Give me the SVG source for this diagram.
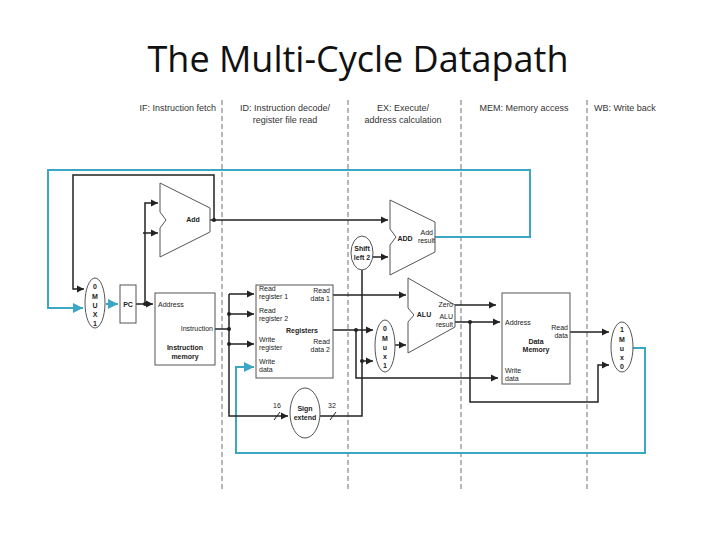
<svg xmlns="http://www.w3.org/2000/svg" width="720" height="540" viewBox="0 0 720 540">
<defs>
<marker id="ar" viewBox="0 0 6 6" refX="6" refY="3" markerWidth="5" markerHeight="5" orient="auto"><path d="M0,0L6,3L0,6z" fill="#222"/></marker>
<marker id="arc" viewBox="0 0 6 6" refX="6" refY="3" markerWidth="5" markerHeight="5" orient="auto"><path d="M0,0L6,3L0,6z" fill="#3ba7c4"/></marker>
</defs>
<style>
.t{font-family:"Liberation Sans",Arial,sans-serif;font-size:7px;fill:#222}
.b{font-weight:bold}
.h{font-family:"Liberation Sans",Arial,sans-serif;font-size:9px;fill:#333}
.s{fill:#fff;stroke:#555;stroke-width:1}
.w{fill:none;stroke:#222;stroke-width:1.5}
.c{fill:none;stroke:#3ba7c4;stroke-width:2}
.d{stroke:#888;stroke-width:1.2;stroke-dasharray:5,3}
</style>
<rect width="720" height="540" fill="#fff"/>
<text x="358" y="72" text-anchor="middle" font-family="Open Sans, Liberation Sans, sans-serif" font-size="36" fill="#111">The Multi-Cycle Datapath</text>
<g id="stages">
<line class="d" x1="222" y1="100" x2="222" y2="490"/>
<line class="d" x1="348" y1="100" x2="348" y2="490"/>
<line class="d" x1="461" y1="100" x2="461" y2="490"/>
<line class="d" x1="587" y1="100" x2="587" y2="490"/>
<text class="h" x="216" y="111" text-anchor="end">IF: Instruction fetch</text>
<text class="h" x="285" y="111" text-anchor="middle">ID: Instruction decode/</text>
<text class="h" x="285" y="123" text-anchor="middle">register file read</text>
<text class="h" x="403" y="111" text-anchor="middle">EX: Execute/</text>
<text class="h" x="403" y="123" text-anchor="middle">address calculation</text>
<text class="h" x="524" y="111" text-anchor="middle">MEM: Memory access</text>
<text class="h" x="594" y="111">WB: Write back</text>
</g>
<g id="connectors">
<path class="c" d="M435,237H530V170H48V308H83" marker-end="url(#arc)"/>
<path class="c" d="M612,348H645V453H236V367H254" marker-end="url(#arc)"/>
<path class="c" d="M106,304H118" marker-end="url(#arc)"/>
<path class="w" d="M210,220H214V175H73V289H84" marker-end="url(#ar)"/>
<path class="w" d="M214,220H388" marker-end="url(#ar)"/>
<path class="w" d="M136,304H153" marker-end="url(#ar)"/>
<path class="w" d="M145,304V203H158" marker-end="url(#ar)"/>
<path class="w" d="M143,233H158" marker-end="url(#ar)"/>
<path class="w" d="M215,329H229"/>
<path class="w" d="M229,294V416H288" marker-end="url(#ar)"/>
<path class="w" d="M229,294H254" marker-end="url(#ar)"/>
<path class="w" d="M229,314H254" marker-end="url(#ar)"/>
<path class="w" d="M229,344H254" marker-end="url(#ar)"/>
<path class="w" d="M320,416H362V270"/>
<path class="w" d="M373,257H388" marker-end="url(#ar)"/>
<path class="w" d="M362,361H373" marker-end="url(#ar)"/>
<path class="w" d="M333,295H406" marker-end="url(#ar)"/>
<path class="w" d="M333,330H373" marker-end="url(#ar)"/>
<path class="w" d="M356,330V378H498" marker-end="url(#ar)"/>
<path class="w" d="M395,345H406" marker-end="url(#ar)"/>
<path class="w" d="M455,305H496" marker-end="url(#ar)"/>
<path class="w" d="M455,322H500" marker-end="url(#ar)"/>
<path class="w" d="M470,322V402H598V365H609" marker-end="url(#ar)"/>
<path class="w" d="M570,332H609" marker-end="url(#ar)"/>
<line x1="274" y1="420" x2="280" y2="412" stroke="#222"/>
<line x1="330" y1="420" x2="336" y2="412" stroke="#222"/>
<text class="t" x="273" y="408">16</text>
<text class="t" x="328" y="408">32</text>
<g fill="#222">
<circle cx="214" cy="220" r="2"/><circle cx="145" cy="304" r="2"/><circle cx="229" cy="314" r="2"/>
<circle cx="229" cy="329" r="2"/><circle cx="229" cy="344" r="2"/><circle cx="362" cy="361" r="2"/>
<circle cx="356" cy="330" r="2"/><circle cx="470" cy="322" r="2"/>
</g>
</g>
<g id="pcmux"><ellipse class="s" cx="95" cy="303" rx="10" ry="25"/>
<text class="t b" x="95" y="289" text-anchor="middle">0</text><text class="t b" x="95" y="299" text-anchor="middle">M</text><text class="t b" x="95" y="308" text-anchor="middle">U</text><text class="t b" x="95" y="317" text-anchor="middle">X</text><text class="t b" x="95" y="326" text-anchor="middle">1</text></g>
<g id="pc"><rect class="s" x="120" y="285" width="16" height="38"/><text class="t b" x="128" y="307" text-anchor="middle">PC</text></g>
<g id="add"><path class="s" d="M160,183L210,208V232L160,257V228L166,220L160,212Z"/><text class="t b" x="193" y="222" text-anchor="middle">Add</text></g>
<g id="imem"><rect class="s" x="155" y="293" width="60" height="72"/>
<text class="t" x="158" y="307">Address</text><text class="t" x="213" y="331" text-anchor="end">Instruction</text>
<text class="t b" x="185" y="350" text-anchor="middle">Instruction</text><text class="t b" x="185" y="359" text-anchor="middle">memory</text></g>
<g id="regs"><rect class="s" x="256" y="285" width="77" height="93"/>
<text class="t" x="259" y="291">Read</text><text class="t" x="259" y="299">register 1</text>
<text class="t" x="330" y="293" text-anchor="end">Read</text><text class="t" x="330" y="301" text-anchor="end">data 1</text>
<text class="t" x="259" y="313">Read</text><text class="t" x="259" y="321">register 2</text>
<text class="t b" x="302" y="333" text-anchor="middle">Registers</text>
<text class="t" x="259" y="342">Write</text><text class="t" x="259" y="350">register</text>
<text class="t" x="330" y="344" text-anchor="end">Read</text><text class="t" x="330" y="352" text-anchor="end">data 2</text>
<text class="t" x="259" y="364">Write</text><text class="t" x="259" y="372">data</text></g>
<g id="signext"><ellipse class="s" cx="305" cy="413" rx="15" ry="25"/>
<text class="t b" x="305" y="411" text-anchor="middle">Sign</text><text class="t b" x="305" y="420" text-anchor="middle">extend</text></g>
<g id="shift"><ellipse class="s" cx="362" cy="253" rx="11" ry="17"/>
<text class="t b" x="362" y="251" text-anchor="middle">Shift</text><text class="t b" x="362" y="260" text-anchor="middle">left 2</text></g>
<g id="branchadd"><path class="s" d="M390,200L435,222V252L390,275V245L396,237L390,229Z"/>
<text class="t b" x="405" y="241" text-anchor="middle">ADD</text><text class="t" x="433" y="235" text-anchor="end">Add</text><text class="t" x="435" y="243" text-anchor="end">result</text></g>
<g id="alumux"><ellipse class="s" cx="385" cy="346" rx="10" ry="26"/>
<text class="t b" x="385" y="331" text-anchor="middle">0</text><text class="t b" x="385" y="341" text-anchor="middle">M</text><text class="t b" x="385" y="350" text-anchor="middle">u</text><text class="t b" x="385" y="359" text-anchor="middle">x</text><text class="t b" x="385" y="368" text-anchor="middle">1</text></g>
<g id="alu"><path class="s" d="M408,278L455,305V327L408,353V322L414,315L408,308Z"/>
<text class="t b" x="424" y="317" text-anchor="middle">ALU</text><text class="t" x="453" y="307" text-anchor="end">Zero</text>
<text class="t" x="453" y="319" text-anchor="end">ALU</text><text class="t" x="453" y="327" text-anchor="end">result</text></g>
<g id="dmem"><rect class="s" x="502" y="293" width="68" height="91"/>
<text class="t" x="505" y="325">Address</text><text class="t" x="568" y="330" text-anchor="end">Read</text><text class="t" x="568" y="338" text-anchor="end">data</text>
<text class="t b" x="536" y="344" text-anchor="middle">Data</text><text class="t b" x="536" y="352" text-anchor="middle">Memory</text>
<text class="t" x="505" y="373">Write</text><text class="t" x="505" y="381">data</text></g>
<g id="wbmux"><ellipse class="s" cx="622" cy="347" rx="11" ry="25"/>
<text class="t b" x="622" y="332" text-anchor="middle">1</text><text class="t b" x="622" y="342" text-anchor="middle">M</text><text class="t b" x="622" y="351" text-anchor="middle">u</text><text class="t b" x="622" y="360" text-anchor="middle">x</text><text class="t b" x="622" y="369" text-anchor="middle">0</text></g>
</svg>
